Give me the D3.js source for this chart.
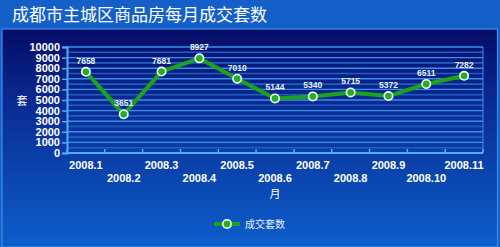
<!DOCTYPE html>
<html>
<head>
<meta charset="utf-8">
<script src="https://cdn.jsdelivr.net/npm/d3@7"></script>
<style>
  body { margin: 0; background: #1560c8; }
  svg { display: block; }
</style>
</head>
<body>
<svg id="chart" width="500" height="247"></svg>
<script>
// data
const months = ["2008.1", "2008.2", "2008.3", "2008.4", "2008.5", "2008.6",
  "2008.7", "2008.8", "2008.9", "2008.10", "2008.11"];
const sales = [7658, 3651, 7681, 8927, 7010, 5144, 5340, 5715, 5372, 6511, 7282];
const yTicks = [0, 1000, 2000, 3000, 4000, 5000, 6000, 7000, 8000, 9000, 10000];
const seriesName = "成交套数";
const title = "成都市主城区商品房每月成交套数";

const W = 500, H = 247;
const plotLeft = 67, plotRight = 483, plotTop = 47, plotBottom = 153;

const svg = d3.select("#chart");
const defs = svg.append("defs");

const grad = defs.append("linearGradient")
  .attr("id", "panelGrad")
  .attr("x1", 0).attr("y1", 0).attr("x2", 0).attr("y2", 1);
grad.append("stop").attr("offset", "0%").attr("stop-color", "#040c66");
grad.append("stop").attr("offset", "35%").attr("stop-color", "#0a2c92");
grad.append("stop").attr("offset", "100%").attr("stop-color", "#0c5ecc");

// title bar
svg.append("rect")
  .attr("x", 0).attr("y", 0).attr("width", W).attr("height", 29)
  .attr("fill", "#1560c8");

svg.append("text")
  .attr("x", 12).attr("y", 21)
  .attr("fill", "#ffffff")
  .style("font-family", "'Noto Sans CJK SC', sans-serif")
  .style("font-size", "17px")
  .text(title);

// panel
svg.append("rect")
  .attr("x", 2).attr("y", 29).attr("width", W - 4.5).attr("height", H - 29)
  .attr("fill", "url(#panelGrad)")
  .attr("stroke", "#3a8ee8")
  .attr("stroke-width", 1.2);

// scales
const x = d3.scaleBand()
  .domain(months)
  .range([plotLeft, plotRight])
  .padding(0);

const y = d3.scaleLinear()
  .domain([0, 10000])
  .range([plotBottom, plotTop]);

const chart = svg.append("g");

// stripes / gridlines (every 500)
const grid = d3.range(0, 10001, 500);
chart.selectAll(".grid")
  .data(grid)
  .enter()
  .append("line")
  .attr("x1", plotLeft).attr("x2", plotRight)
  .attr("y1", d => y(d)).attr("y2", d => y(d))
  .attr("stroke", d => d % 1000 === 0 ? "#3b8ef0" : "#1f5fc4")
  .attr("stroke-width", d => d % 1000 === 0 ? 1.4 : 1.6);

// right edge of plot
chart.append("line")
  .attr("x1", plotRight).attr("x2", plotRight)
  .attr("y1", plotTop).attr("y2", plotBottom)
  .attr("stroke", "#3b8ef0").attr("stroke-width", 1);

// y axis
const yAxis = chart.append("g")
  .attr("transform", `translate(${plotLeft},0)`)
  .call(d3.axisLeft(y).tickValues(yTicks).tickFormat(d3.format("d"))
    .tickSize(5).tickPadding(2));
yAxis.select(".domain").attr("stroke", "#48b0ff").attr("stroke-width", 2);
yAxis.selectAll(".tick line").attr("stroke", "#48b0ff").attr("stroke-width", 1.5);
yAxis.selectAll(".tick text")
  .attr("fill", "#ffffff")
  .style("font-family", "Arial, 'Liberation Sans', sans-serif")
  .style("font-weight", "bold")
  .style("font-size", "11px");

// x axis line
chart.append("line")
  .attr("x1", plotLeft).attr("x2", plotRight)
  .attr("y1", plotBottom).attr("y2", plotBottom)
  .attr("stroke", "#48b0ff").attr("stroke-width", 2);

// x tick marks at band edges
chart.selectAll(".xtick")
  .data(months.concat(["end"]))
  .enter()
  .append("line")
  .attr("x1", (d, i) => i < months.length ? x(d) : plotRight)
  .attr("x2", (d, i) => i < months.length ? x(d) : plotRight)
  .attr("y1", plotBottom).attr("y2", plotBottom - 4)
  .attr("stroke", "#48b0ff").attr("stroke-width", 1.5);

// x labels, staggered
chart.selectAll(".xlabel")
  .data(months)
  .enter()
  .append("text")
  .attr("x", d => x(d) + x.bandwidth() / 2)
  .attr("y", (d, i) => i % 2 === 0 ? 169 : 182)
  .attr("text-anchor", "middle")
  .attr("fill", "#ffffff")
  .style("font-family", "Arial, 'Liberation Sans', sans-serif")
  .style("font-weight", "bold")
  .style("font-size", "11px")
  .text(d => d);

// axis titles
svg.append("text")
  .attr("x", (plotLeft + plotRight) / 2).attr("y", 198)
  .attr("text-anchor", "middle")
  .attr("fill", "#ffffff")
  .style("font-family", "'Noto Sans CJK SC', sans-serif")
  .style("font-size", "11px")
  .text("月");

svg.append("text")
  .attr("x", 22).attr("y", 105)
  .attr("text-anchor", "middle")
  .attr("fill", "#ffffff")
  .style("font-family", "'Noto Sans CJK SC', sans-serif")
  .style("font-size", "11px")
  .text("套");

// line
const line = d3.line()
  .x((d, i) => x(months[i]) + x.bandwidth() / 2)
  .y(d => y(d));

chart.append("path")
  .datum(sales)
  .attr("d", line)
  .attr("fill", "none")
  .attr("stroke", "#1ca31c")
  .attr("stroke-width", 4)
  .attr("stroke-linejoin", "round");

// markers
chart.selectAll(".pt")
  .data(sales)
  .enter()
  .append("circle")
  .attr("cx", (d, i) => x(months[i]) + x.bandwidth() / 2)
  .attr("cy", d => y(d))
  .attr("r", 4.2)
  .attr("fill", "#22b022")
  .attr("stroke", "#ffffff")
  .attr("stroke-width", 1.6);

// value labels
chart.selectAll(".val")
  .data(sales)
  .enter()
  .append("text")
  .attr("x", (d, i) => x(months[i]) + x.bandwidth() / 2)
  .attr("y", d => y(d) - 8)
  .attr("text-anchor", "middle")
  .attr("fill", "#e8f0ff")
  .style("font-family", "Arial, 'Liberation Sans', sans-serif")
  .style("font-weight", "bold")
  .style("font-size", "8.5px")
  .text(d => d);

// legend
const legend = svg.append("g").attr("transform", "translate(227,224)");
legend.append("line")
  .attr("x1", -13).attr("x2", 13)
  .attr("stroke", "#1ca31c").attr("stroke-width", 4);
legend.append("circle")
  .attr("r", 4.2)
  .attr("fill", "#22b022")
  .attr("stroke", "#ffffff")
  .attr("stroke-width", 1.6);
legend.append("text")
  .attr("x", 18).attr("y", 4)
  .attr("fill", "#e8f0ff")
  .style("font-family", "'Noto Sans CJK SC', sans-serif")
  .style("font-size", "10px")
  .text(seriesName);
</script>
</body>
</html>
